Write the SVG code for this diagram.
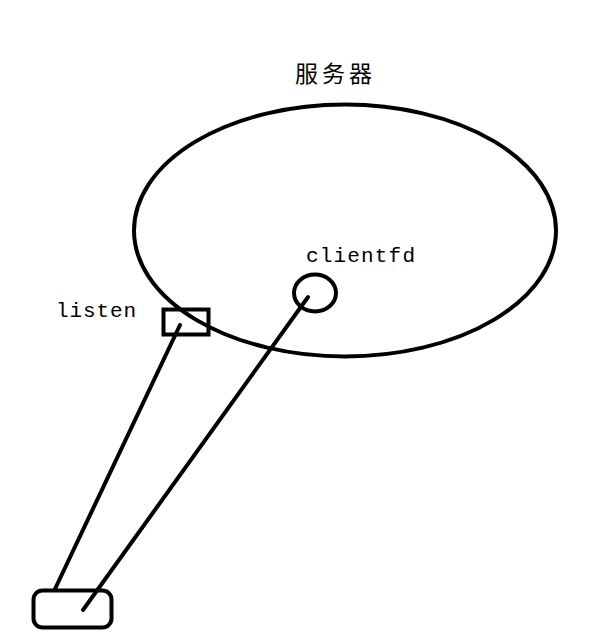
<svg xmlns="http://www.w3.org/2000/svg" width="589" height="637" viewBox="0 0 589 637">
<style>
.s{fill:none;stroke:#000;stroke-width:4}
.c{stroke:#000;stroke-width:4;stroke-linecap:round;fill:none}
.t{font-family:"Liberation Mono","DejaVu Sans Mono",monospace;font-size:21px;fill:#000}
.z{font-family:"Noto Sans CJK SC","Noto Sans CJK JP",sans-serif;font-size:23px;fill:#000}
</style>
<rect width="589" height="637" fill="#fff"/>
<g id="server">
<ellipse class="s" cx="345" cy="230.5" rx="211" ry="126"/>
<text class="z" x="295" y="82" textLength="77">服务器</text>
</g>
<g id="clientfd">
<ellipse class="s" cx="315" cy="293" rx="21" ry="18.5"/>
<text class="t" x="306" y="262" textLength="109">clientfd</text>
</g>
<g id="listen">
<rect class="s" x="163.5" y="309.5" width="45" height="25"/>
<text class="t" x="56" y="317" textLength="80">listen</text>
</g>
<g id="client">
<rect class="s" x="33.5" y="590.5" width="78" height="37" rx="9"/>
</g>
<g id="connectors">
<line class="c" x1="180" y1="325" x2="55" y2="589"/>
<line class="c" x1="308" y1="297" x2="83" y2="610"/>
</g>
</svg>
